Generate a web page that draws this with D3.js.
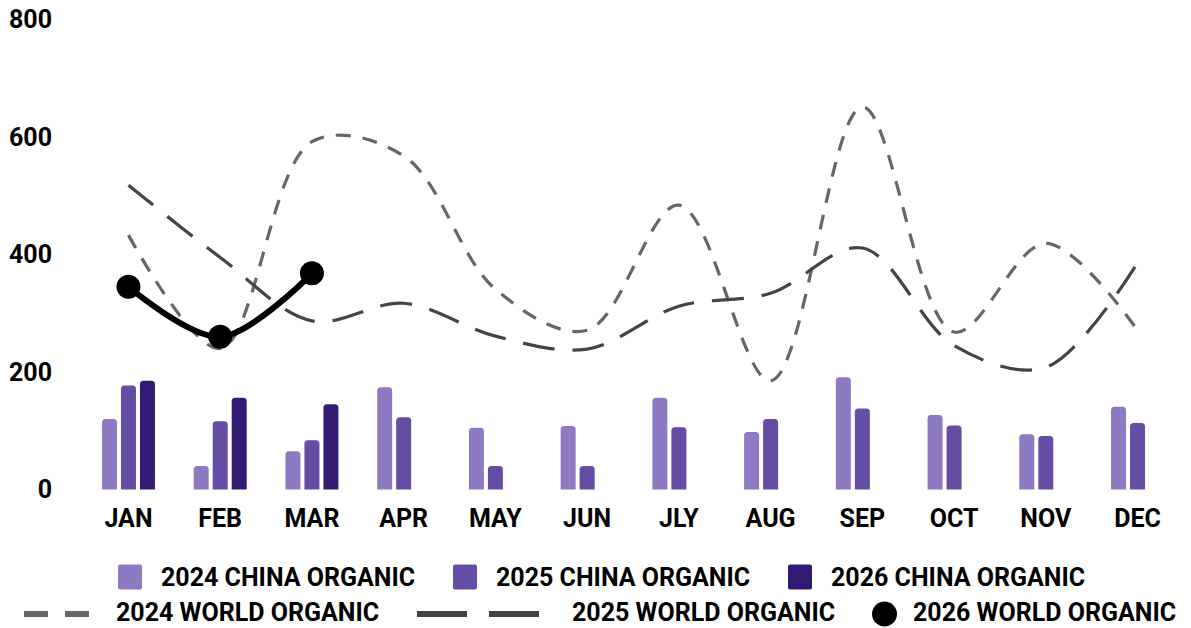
<!DOCTYPE html>
<html>
<head>
<meta charset="utf-8">
<script src="https://cdn.jsdelivr.net/npm/d3@7"></script>
<style>
  html, body { margin: 0; padding: 0; background: #fff; }
  svg { display: block; font-family: Roboto, "Noto Sans", sans-serif; font-weight: 700; }
</style>
</head>
<body>
<svg id="chart" width="1191" height="628"></svg>
<script>
// Months on the category axis
const months = ["JAN", "FEB", "MAR", "APR", "MAY", "JUN", "JLY", "AUG", "SEP", "OCT", "NOV", "DEC"];
const yTicks = [0, 200, 400, 600, 800];

// China organic (bars)
const china2024 = [120, 40, 65, 174, 105, 108, 156, 98, 191, 127, 94, 141];
const china2025 = [177, 116, 84, 123, 40, 40, 106, 120, 138, 109, 91, 113];
const china2026 = [185, 156, 145];

// World organic (lines)
const world2024 = [433, 240, 592, 568, 341, 271, 484, 185, 651, 268, 419, 271];
const world2025 = [518, 395, 287, 317, 261, 239, 312, 334, 411, 245, 208, 386];
const world2026 = [345, 260, 368];

const barSeries = [
  { name: "2024 CHINA ORGANIC", values: china2024, color: "#8e79c3" },
  { name: "2025 CHINA ORGANIC", values: china2025, color: "#654ca5" },
  { name: "2026 CHINA ORGANIC", values: china2026, color: "#331a73" }
];
const lineSeries = [
  { name: "2024 WORLD ORGANIC", values: world2024, color: "#666666", width: 3.2, dash: "15,12", legendDash: "24,17", legendLen: 74 },
  { name: "2025 WORLD ORGANIC", values: world2025, color: "#444444", width: 3.2, dash: "32,18", legendDash: "50,22", legendLen: 136 },
  { name: "2026 WORLD ORGANIC", values: world2026, color: "#000000", width: 6, dash: null, dot: 12 }
];

const svg = d3.select("#chart");

const x = d3.scaleBand().domain(months).range([82.6, 1183.4]).paddingInner(0.379).paddingOuter(0.1895);
const xs = d3.scaleBand().domain(barSeries.map(s => s.name)).range([0, x.bandwidth()]).paddingInner(0.21).paddingOuter(0.105);
const y = d3.scaleLinear().domain([0, 800]).range([489.5, 19.5]);
const cx = m => x(m) + x.bandwidth() / 2;

// Y axis labels
const yAxis = d3.axisLeft(y).tickValues(yTicks).tickSize(0).tickPadding(0);
const gy = svg.append("g").attr("transform", "translate(52,0)").call(yAxis);
gy.select(".domain").remove();
gy.selectAll("text").attr("font-size", 25).attr("font-weight", 700).attr("fill", "#000")
  .attr("font-family", "Roboto, sans-serif");

// X axis labels
const xAxis = d3.axisBottom(x).tickSize(0).tickPadding(0);
const gx = svg.append("g").attr("transform", "translate(0,509)").call(xAxis);
gx.select(".domain").remove();
gx.selectAll("text").attr("font-size", 25).attr("font-weight", 700).attr("fill", "#000")
  .attr("font-family", "Roboto, sans-serif");

// Bars with rounded tops
function topRounded(x0, y0, w, h, r) {
  r = Math.min(r, h, w / 2);
  return `M${x0},${y0 + h}V${y0 + r}Q${x0},${y0} ${x0 + r},${y0}H${x0 + w - r}Q${x0 + w},${y0} ${x0 + w},${y0 + r}V${y0 + h}Z`;
}
barSeries.forEach(s => {
  svg.append("g").selectAll("path")
    .data(s.values.map((v, i) => ({ m: months[i], v })))
    .join("path")
    .attr("fill", s.color)
    .attr("d", d => topRounded(x(d.m) + xs(s.name), y(d.v), xs.bandwidth(), y(0) - y(d.v), 3.5));
});

// Lines
lineSeries.forEach(s => {
  const pts = s.values.map((v, i) => [cx(months[i]), y(v)]);
  const line = d3.line().curve(d3.curveCatmullRom.alpha(0.5));
  const p = svg.append("path")
    .attr("d", line(pts))
    .attr("fill", "none")
    .attr("stroke", s.color)
    .attr("stroke-width", s.width)
    .attr("stroke-linejoin", "round");
  if (s.dash) p.attr("stroke-dasharray", s.dash);
  if (s.dot) {
    svg.append("g").selectAll("circle").data(pts).join("circle")
      .attr("cx", d => d[0]).attr("cy", d => d[1]).attr("r", s.dot).attr("fill", s.color);
  }
});

// Legend, row 1: bar series
const legend1 = svg.append("g");
const row1X = [118, 453, 788];
barSeries.forEach((s, i) => {
  const g = legend1.append("g").attr("transform", `translate(${row1X[i]},577)`);
  g.append("rect").attr("x", 0).attr("y", -12.5).attr("width", 24).attr("height", 25).attr("rx", 2).attr("fill", s.color);
  g.append("text").attr("x", 43).attr("y", 0).attr("dy", "0.35em").attr("font-size", 25).attr("fill", "#000").text(s.name);
});

// Legend, row 2: line series
const legend2 = svg.append("g");
const row2X = [24, 417, 872];
const row2Text = [116, 572, 913];
lineSeries.forEach((s, i) => {
  const g = legend2.append("g").attr("transform", `translate(0,612)`);
  if (s.dot) {
    g.append("circle").attr("cx", row2X[i] + 12.5).attr("cy", 2).attr("r", 12.5).attr("fill", s.color);
  } else {
    g.append("line").attr("x1", row2X[i]).attr("x2", row2X[i] + s.legendLen).attr("y1", 2).attr("y2", 2)
      .attr("stroke", s.color).attr("stroke-width", 6).attr("stroke-dasharray", s.legendDash);
  }
  g.append("text").attr("x", row2Text[i]).attr("y", 0).attr("dy", "0.35em").attr("font-size", 25).attr("fill", "#000").text(s.name);
});
</script>
</body>
</html>
